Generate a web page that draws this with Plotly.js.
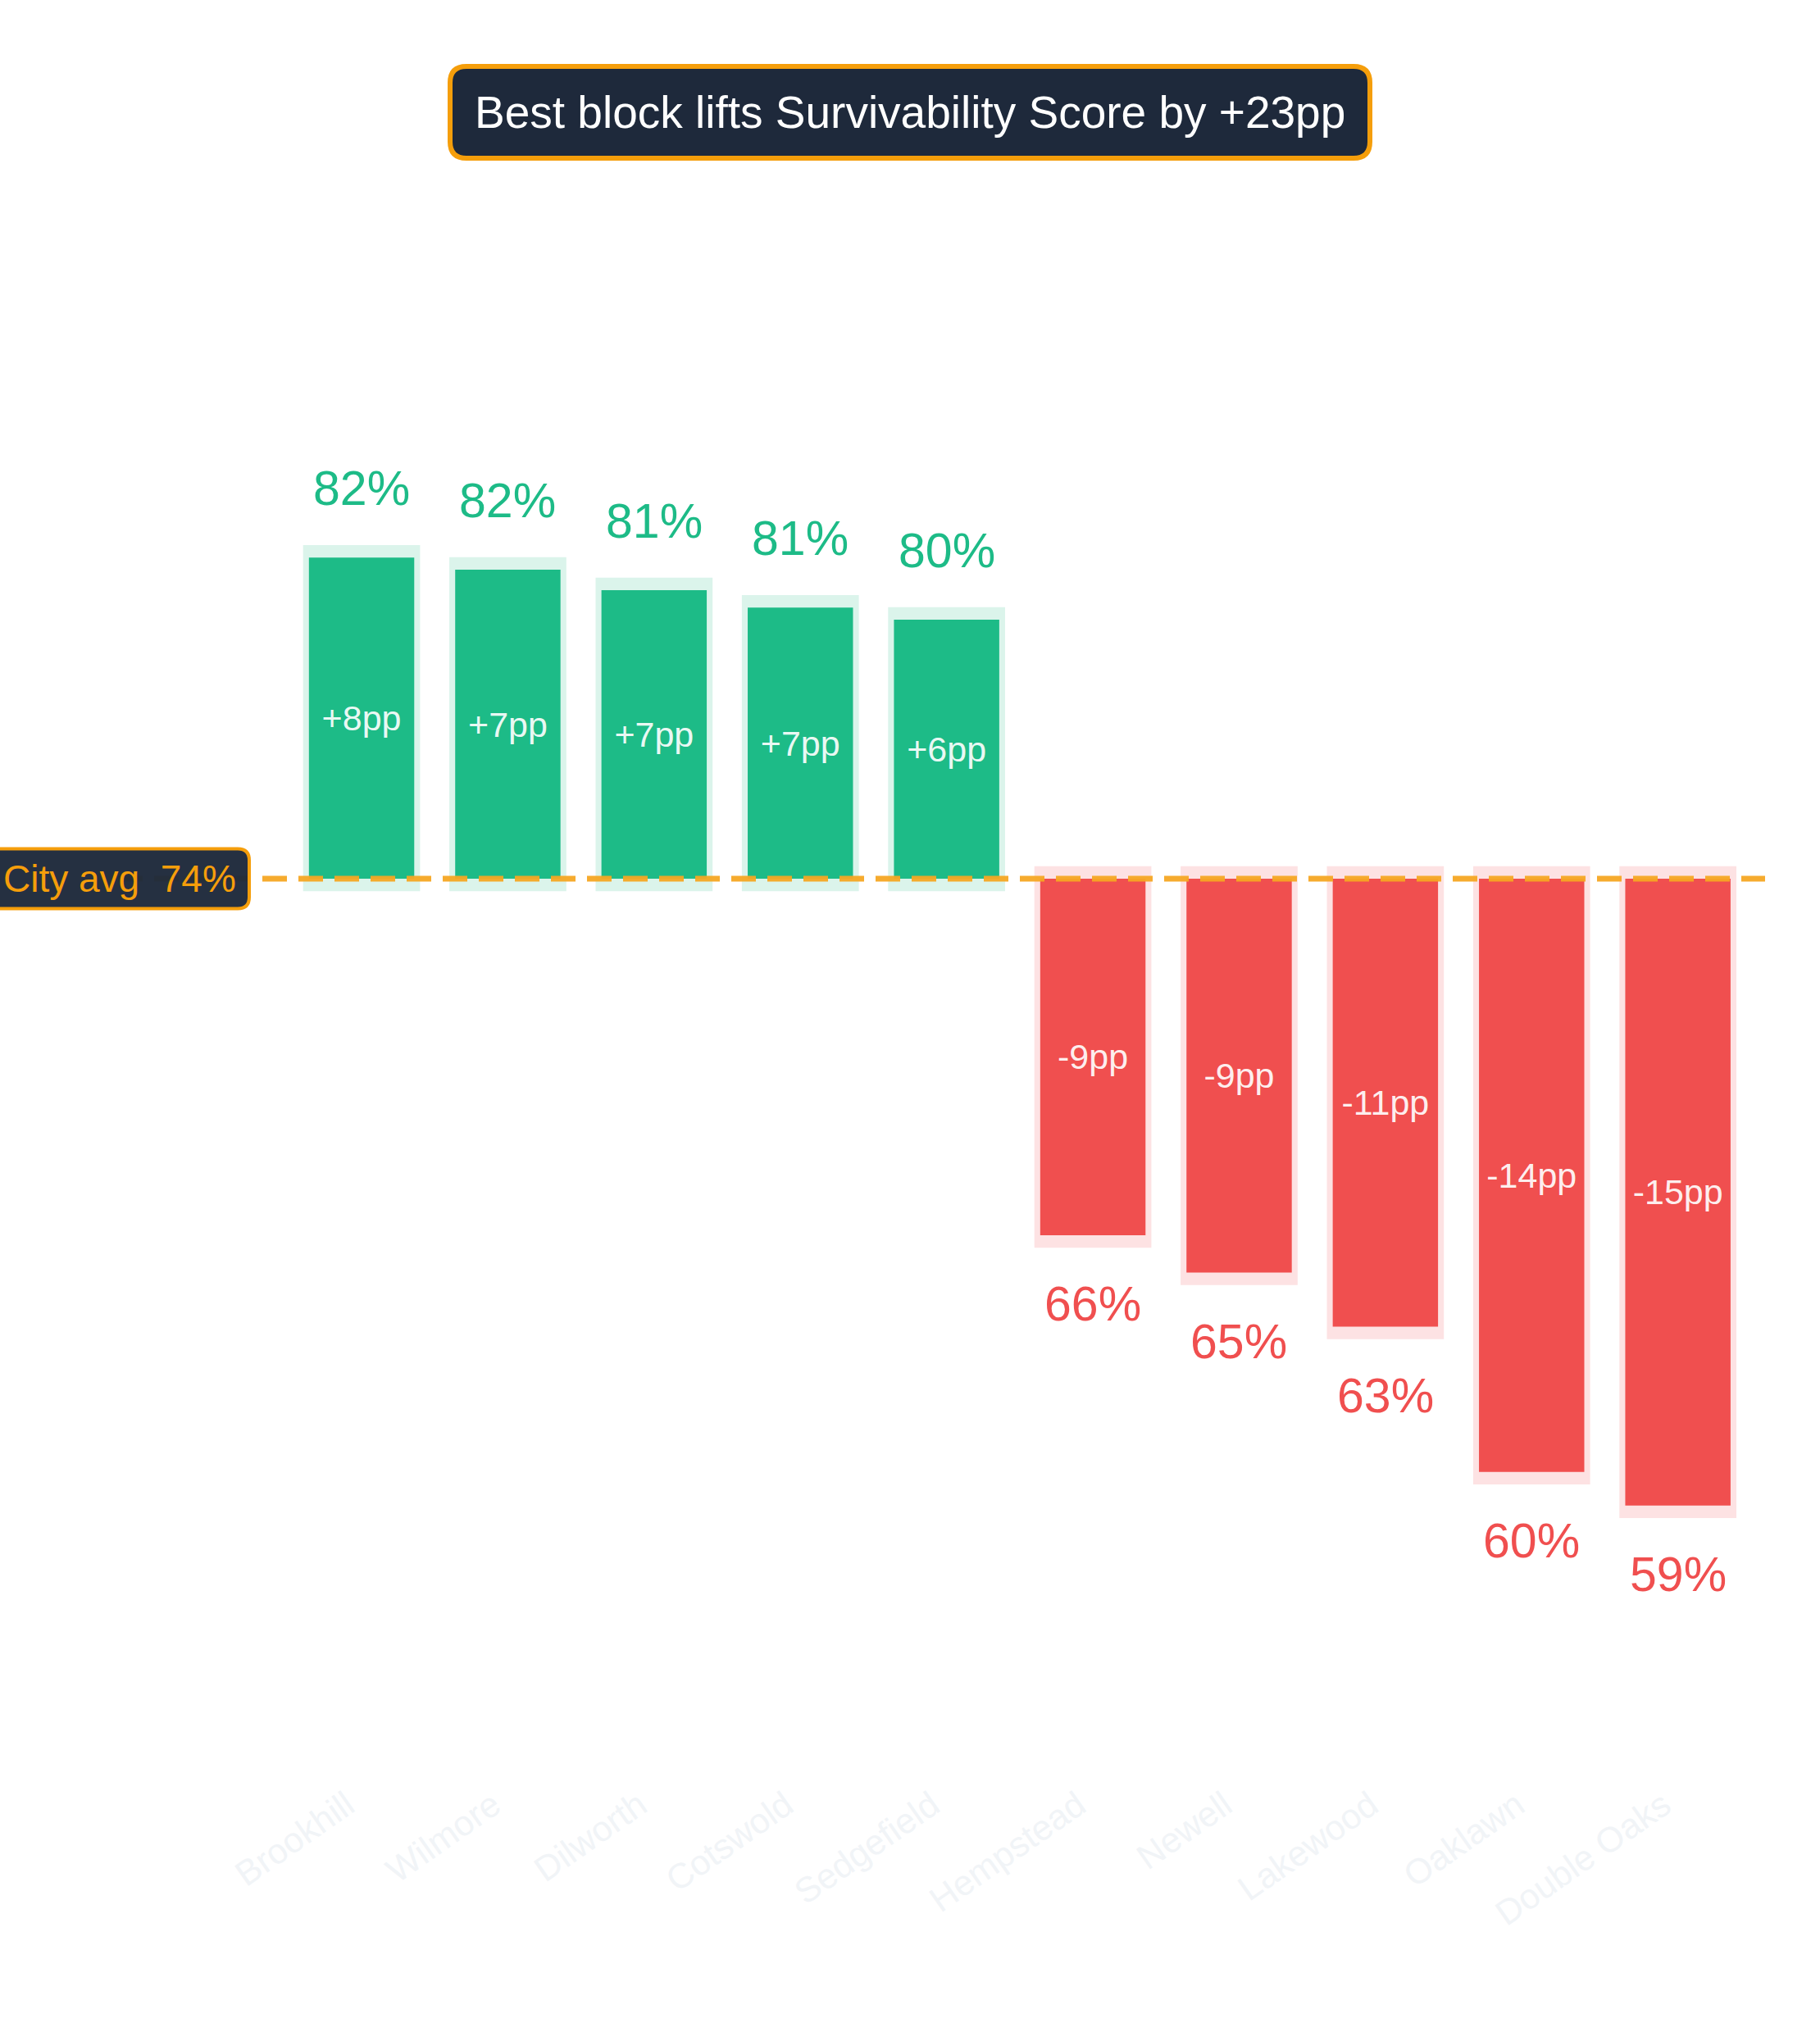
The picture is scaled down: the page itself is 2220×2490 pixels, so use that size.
<!DOCTYPE html>
<html>
<head>
<meta charset="utf-8">
<script src="https://cdn.plot.ly/plotly-3.0.1.min.js"></script>
<style>
  html, body { margin: 0; padding: 0; background: #ffffff; }
  #chart { width: 2220px; height: 2490px; }
</style>
</head>
<body>
<div id="chart"></div>
<script>
    // survivability score per block, sorted best to worst
    var blocks = ['Brookhill', 'Wilmore', 'Dilworth', 'Cotswold', 'Sedgefield',
                  'Hempstead', 'Newell', 'Lakewood', 'Oaklawn', 'Double Oaks'];
    var scores = [81.92, 81.63, 81.14, 80.72, 80.43, 65.63, 64.73, 63.43, 59.94, 59.13];
    var cityAvg = 74.2;

    var colors = {
        'up': '#1dbb87',
        'down': '#f04f4f',
        'upHalo': '#dbf4eb',
        'downHalo': '#fde2e3',
        'amber': '#f59e0b',
        'navy': '#1e293b'
    };
    var fontFamily = 'Liberation Sans, Arial, sans-serif';

    var W = 2220, H = 2490;
    var margin = {l: 144, r: 67, t: 250, b: 330};
    var yRange = [52.76, 90.40];
    var haloPad = 0.3;   // pp the pale outline sticks out past each end of a bar

    var diffs = scores.map(function (v) { return v - cityAvg; });
    var isUp = diffs.map(function (d) { return d >= 0; });
    var diffText = diffs.map(function (d) {
        var r = Math.round(d);
        return (r > 0 ? '+' : '') + r + 'pp';
    });
    var pctText = scores.map(function (v) { return Math.round(v) + '%'; });
    var spread = Math.round(Math.max.apply(null, scores) - Math.min.apply(null, scores));

    // rounded box path, in pixels, centred on its anchor
    function roundBox(w, h, r) {
        var x0 = -w / 2, x1 = w / 2, y0 = -h / 2, y1 = h / 2;
        return 'M' + (x0 + r) + ',' + y0 + ' L' + (x1 - r) + ',' + y0 +
               ' Q' + x1 + ',' + y0 + ' ' + x1 + ',' + (y0 + r) +
               ' L' + x1 + ',' + (y1 - r) +
               ' Q' + x1 + ',' + y1 + ' ' + (x1 - r) + ',' + y1 +
               ' L' + (x0 + r) + ',' + y1 +
               ' Q' + x0 + ',' + y1 + ' ' + x0 + ',' + (y1 - r) +
               ' L' + x0 + ',' + (y0 + r) +
               ' Q' + x0 + ',' + y0 + ' ' + (x0 + r) + ',' + y0 + ' Z';
    }

    var plotW = W - margin.l - margin.r;
    var plotH = H - margin.t - margin.b;
    var titleX = (W / 2 - margin.l) / plotW;
    var titleY = 1 + 113 / plotH;
    var avgY = (cityAvg - yRange[0]) / (yRange[1] - yRange[0]);

    var data = [];

    // pale halo behind every bar
    data.push({
        type: 'bar',
        x: blocks,
        base: diffs.map(function (d) { return cityAvg - (d >= 0 ? haloPad : -haloPad); }),
        y: diffs.map(function (d) { return d + (d >= 0 ? 2 * haloPad : -2 * haloPad); }),
        width: 0.8,
        marker: {color: isUp.map(function (u) { return u ? colors.upHalo : colors.downHalo; })},
        hoverinfo: 'skip',
        showlegend: false
    });

    // the bars themselves, hanging from the city average
    data.push({
        type: 'bar',
        x: blocks,
        base: cityAvg,
        y: diffs,
        width: 0.72,
        marker: {color: isUp.map(function (u) { return u ? colors.up : colors.down; })},
        text: diffText,
        textposition: 'inside',
        insidetextanchor: 'middle',
        textangle: 0,
        insidetextfont: {family: fontFamily, size: 43, color: 'rgba(255,255,255,0.93)'},
        hoverinfo: 'skip',
        showlegend: false
    });

    var annotations = [];
    for (let i in blocks) {
        annotations.push({
            x: blocks[i],
            y: scores[i],
            xref: 'x',
            yref: 'y',
            text: pctText[i],
            showarrow: false,
            yanchor: 'middle',
            yshift: isUp[i] ? 84 : -84,
            font: {family: fontFamily, size: 59, color: isUp[i] ? colors.up : colors.down}
        });
    }

    annotations.push({
        xref: 'paper',
        yref: 'paper',
        x: 0,
        y: avgY,
        xanchor: 'center',
        yanchor: 'middle',
        xshift: 2,
        text: 'City avg  ' + Math.round(cityAvg) + '%',
        showarrow: false,
        font: {family: fontFamily, size: 46, color: colors.amber}
    });

    annotations.push({
        xref: 'paper',
        yref: 'paper',
        x: titleX,
        y: titleY,
        xanchor: 'center',
        yanchor: 'middle',
        text: 'Best block lifts Survivability Score by +' + spread + 'pp',
        showarrow: false,
        font: {family: fontFamily, size: 55, color: '#ffffff'}
    });

    var shapes = [
        {
            type: 'line',
            xref: 'paper',
            yref: 'y',
            x0: 0,
            x1: 1,
            y0: cityAvg,
            y1: cityAvg,
            layer: 'above',
            line: {color: 'rgba(245,166,35,0.95)', width: 7, dash: '30px,14px'}
        },
        {
            type: 'path',
            xref: 'paper',
            yref: 'paper',
            xsizemode: 'pixel',
            ysizemode: 'pixel',
            xanchor: 0,
            yanchor: avgY,
            path: roundBox(320, 73, 14),
            fillcolor: 'rgba(30,41,59,0.97)',
            line: {color: colors.amber, width: 4},
            layer: 'above'
        },
        {
            type: 'path',
            xref: 'paper',
            yref: 'paper',
            xsizemode: 'pixel',
            ysizemode: 'pixel',
            xanchor: titleX,
            yanchor: titleY,
            path: roundBox(1122, 112, 20),
            fillcolor: colors.navy,
            line: {color: colors.amber, width: 6},
            layer: 'above'
        }
    ];

    var layout = {
        width: W,
        height: H,
        margin: margin,
        paper_bgcolor: '#ffffff',
        plot_bgcolor: '#ffffff',
        barmode: 'overlay',
        showlegend: false,
        font: {family: fontFamily},
        xaxis: {
            type: 'category',
            range: [-1.665, 9.596],
            showgrid: false,
            zeroline: false,
            showline: false,
            ticks: '',
            tickangle: -35,
            ticklabelshift: -18,
            ticklabelstandoff: 8,
            tickfont: {family: fontFamily, size: 43, color: '#f1f4f7'}
        },
        yaxis: {
            range: yRange,
            showgrid: false,
            zeroline: false,
            showline: false,
            showticklabels: false,
            ticks: ''
        },
        shapes: shapes,
        annotations: annotations
    };

    var config = {responsive: false, displayModeBar: false, staticPlot: true};
    Plotly.newPlot('chart', data, layout, config);
</script>
</body>
</html>
